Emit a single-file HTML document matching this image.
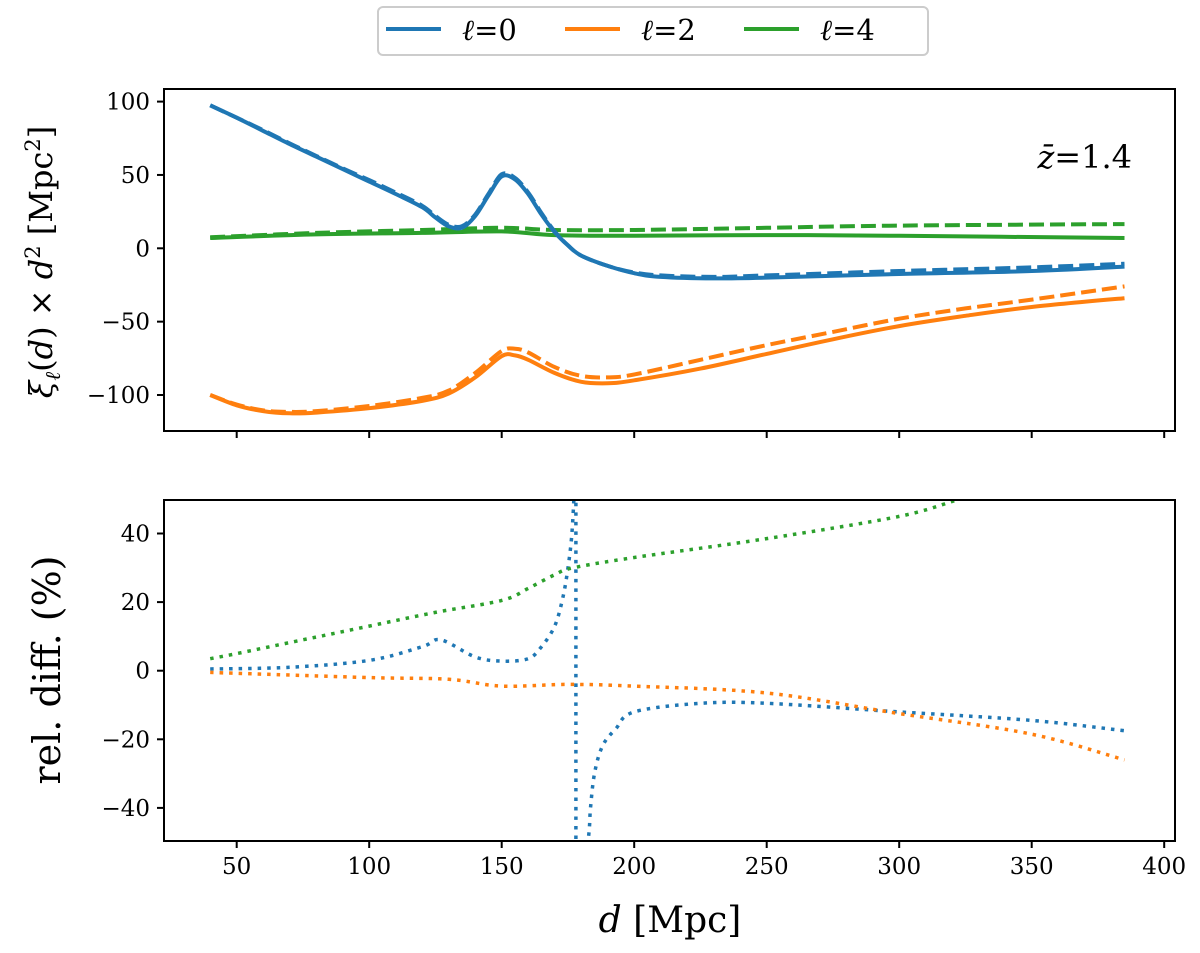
<!DOCTYPE html>
<html><head><meta charset="utf-8">
<style>
body{margin:0;background:#fff;width:1200px;height:948px;overflow:hidden}
svg text{font-family:"DejaVu Serif","Liberation Serif",serif;fill:#000}
</style></head><body>
<svg id="chart" width="1200" height="948" viewBox="0 0 1200 948" xmlns="http://www.w3.org/2000/svg">
<defs>
<clipPath id="clipTop"><rect x="164" y="89" width="1011" height="342"/></clipPath>
<clipPath id="clipBot"><rect x="164" y="500" width="1011" height="341"/></clipPath>
</defs>
<g id="legend">
<rect x="378" y="7" width="550" height="48" rx="5" fill="#fff" stroke="#ccc" stroke-width="2"/>
<line x1="386" y1="29" x2="441" y2="29" stroke="#1f77b4" stroke-width="4"/>
<text x="462" y="40" font-size="29" font-style="italic">ℓ<tspan font-style="normal">=0</tspan></text>
<line x1="565" y1="29" x2="620" y2="29" stroke="#ff7f0e" stroke-width="4"/>
<text x="641" y="40" font-size="29" font-style="italic">ℓ<tspan font-style="normal">=2</tspan></text>
<line x1="744" y1="29" x2="799" y2="29" stroke="#2ca02c" stroke-width="4"/>
<text x="820" y="40" font-size="29" font-style="italic">ℓ<tspan font-style="normal">=4</tspan></text>
</g>
<g id="top"></g>
<g id="bot"></g>
<text x="1132" y="168" font-size="32" text-anchor="end"><tspan font-style="italic">z̄</tspan>=1.4</text>
<text transform="translate(52,262) rotate(-90)" font-size="32" text-anchor="middle"><tspan font-style="italic">ξ</tspan><tspan font-style="italic" font-size="21" dy="8">ℓ</tspan><tspan dy="-8">(</tspan><tspan font-style="italic">d</tspan>) × <tspan font-style="italic">d</tspan><tspan font-size="21" dy="-12">2</tspan><tspan dy="12"> [Mpc</tspan><tspan font-size="21" dy="-12">2</tspan><tspan dy="12">]</tspan></text>
<text transform="translate(60,670) rotate(-90)" font-size="38" text-anchor="middle">rel. diff. (%)</text>
<text x="670" y="932" font-size="36" text-anchor="middle"><tspan font-style="italic">d</tspan> [Mpc]</text>
</svg>
<script>
const xTicks=[50,100,150,200,250,300,350,400];
const topTicks=[100,50,0,-50,-100];
const botTicks=[40,20,0,-20,-40];
const d0s=[40,50,60,70,80,90,100,110,120,125,130,135,140,145,150,155,160,165,170,175,180,190,200,210,230,250,300,350,385];
const l0solid=[97.5,89,80,71,62.5,54,45.5,37,28,21,15,14,22,36,49,47,37,23,11,2,-5,-12,-17,-19.5,-20.5,-20,-17.5,-15.5,-12.5];
const l0dash=[97.5,89,80.5,71.5,63,54.5,46.5,38,29,22,16,15,23,37,50.5,48,38,24,11.5,2,-5,-12,-16.5,-18.5,-19.5,-18.5,-15.5,-13,-10.5];
const d4s=[40,80,120,150,170,200,250,300,385];
const l4solid=[7,9.5,10.5,11.5,9,8.5,9,8.5,7];
const l4dash=[7.5,10.5,12.5,14,12.5,12.5,14,15.5,16.5];
const d2s=[40,50,60,70,80,100,120,130,140,150,155,160,170,180,190,200,225,250,275,300,325,350,385];
const l2solid=[-100,-107,-111,-112.5,-112,-109,-104,-99,-88,-73.5,-73,-76,-85,-91,-92,-90,-82,-72,-62,-53,-46,-40,-34];
const l2dash=[-100,-106.5,-110.5,-111.5,-111,-107.5,-102,-97,-85,-70,-68.5,-71,-81,-87,-88,-86,-76,-66,-57,-48,-41,-35,-26];
const rd4x=[40,50,75,100,125,150,160,170,177,200,250,300,323,340];
const rd4=[3.5,5,9,13,17,20.5,24,28,30,33,38.5,45,50,53];
const rd2x=[40,100,130,150,175,200,250,300,350,385];
const rd2=[-0.5,-2,-2.5,-4.5,-4,-4.5,-6.5,-12.5,-18.5,-26];
const rd0xA=[40,70,100,120,127,140,150,160,165,170,173,175,176.5,177.5,178];
const rd0A=[0.5,1,3,7,9,4,2.8,3.5,7,13,21,30,40,55,70];
const rd0xB=[178,182.5,183.5,185,188,193,200,225,250,300,350,385];
const rd0B=[-70,-50,-40,-30,-22,-17,-12,-9.5,-9.5,-12,-14.5,-17.5];

const NS='http://www.w3.org/2000/svg';
const X=d=>236.7+(d-50)*2.65;
const YT=v=>248.3-v*1.467;
const YB=v=>670.7-v*3.43;
function mk(tag,parent,attrs){const e=document.createElementNS(NS,tag);for(const k in attrs)e.setAttribute(k,attrs[k]);parent.appendChild(e);return e;}
function path(xs,ys,yf){
  const P=xs.map((x,i)=>[X(x),yf(ys[i])]);
  let s='M'+P[0][0].toFixed(1)+','+P[0][1].toFixed(1);
  for(let i=0;i<P.length-1;i++){
    const p0=P[Math.max(0,i-1)],p1=P[i],p2=P[i+1],p3=P[Math.min(P.length-1,i+2)];
    const c1=[p1[0]+(p2[0]-p0[0])/6,p1[1]+(p2[1]-p0[1])/6];
    const c2=[p2[0]-(p3[0]-p1[0])/6,p2[1]-(p3[1]-p1[1])/6];
    s+=' C'+c1[0].toFixed(1)+','+c1[1].toFixed(1)+' '+c2[0].toFixed(1)+','+c2[1].toFixed(1)+' '+p2[0].toFixed(1)+','+p2[1].toFixed(1);
  }
  return s;
}
function frame(g,y0,y1,ticks,yf,labels,name){
  const r=mk('rect',g,{x:164,y:y0,width:1011,height:y1-y0,fill:'none',stroke:'#000','stroke-width':2});
  
  
  ticks.forEach(t=>{
    const l=mk('line',g,{x1:157,x2:164,y1:yf(t),y2:yf(t),stroke:'#000','stroke-width':2});
    
    
    const tx=mk('text',g,{x:150,y:yf(t)+8,'font-size':23,'text-anchor':'end'});
    tx.textContent=t<0?'\u2212'+(-t):String(t);
    
    
  });
  xTicks.forEach(t=>{
    const l=mk('line',g,{x1:X(t),x2:X(t),y1:y1,y2:y1+7,stroke:'#000','stroke-width':2});
    
    
    if(labels){const tx=mk('text',g,{x:X(t),y:y1+33,'font-size':23,'text-anchor':'middle'});
      tx.textContent=String(t);
      
      }
  });
}
function series(g,xs,ys,yf,color,dash,clip,name){
  const p=mk('path',g,{d:path(xs,ys,yf),fill:'none',stroke:color,'stroke-width':dash==='dot'?3.5:4,'clip-path':'url(#'+clip+')','stroke-linejoin':'round'});
  if(dash==='dash')p.setAttribute('stroke-dasharray','15 6');
  if(dash==='dot')p.setAttribute('stroke-dasharray','3.5 6');
  
  
}
const gt=document.getElementById('top'),gb=document.getElementById('bot');
series(gt,d4s,l4solid,YT,'#2ca02c','','clipTop','l4-solid');
series(gt,d4s,l4dash,YT,'#2ca02c','dash','clipTop','l4-dashed');
series(gt,d0s,l0solid,YT,'#1f77b4','','clipTop','l0-solid');
series(gt,d0s,l0dash,YT,'#1f77b4','dash','clipTop','l0-dashed');
series(gt,d2s,l2solid,YT,'#ff7f0e','','clipTop','l2-solid');
series(gt,d2s,l2dash,YT,'#ff7f0e','dash','clipTop','l2-dashed');
frame(gt,89,431,topTicks,YT,false,'top');
series(gb,rd0xA,rd0A,YB,'#1f77b4','dot','clipBot','l0-reldiff-a');
series(gb,rd0xB,rd0B,YB,'#1f77b4','dot','clipBot','l0-reldiff-b');
series(gb,[178,178],[60,-60],YB,'#1f77b4','dot','clipBot','l0-reldiff-pole');
series(gb,rd2x,rd2,YB,'#ff7f0e','dot','clipBot','l2-reldiff');
series(gb,rd4x,rd4,YB,'#2ca02c','dot','clipBot','l4-reldiff');
frame(gb,500,841,botTicks,YB,true,'bottom');
</script>
</body></html>
